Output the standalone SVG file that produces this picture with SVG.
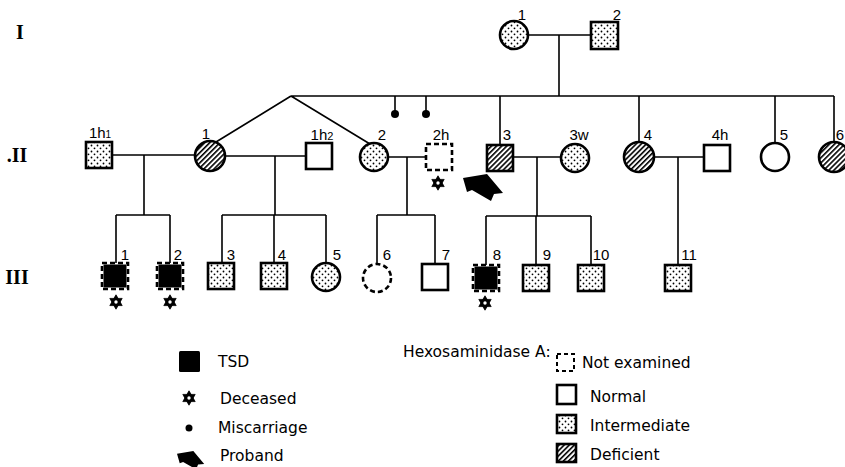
<svg xmlns="http://www.w3.org/2000/svg" width="845" height="467" viewBox="0 0 845 467">
<defs>
<pattern id="stip" width="6" height="6" patternUnits="userSpaceOnUse">
<rect width="6" height="6" fill="#fff"/>
<circle cx="1.5" cy="1.5" r="0.9" fill="#000"/>
<circle cx="4.5" cy="4.3" r="0.9" fill="#000"/>
</pattern>
<pattern id="hatch" width="3.6" height="3.6" patternUnits="userSpaceOnUse" patternTransform="rotate(45)">
<rect width="3.6" height="3.6" fill="#fff"/>
<line x1="0.8" y1="0" x2="0.8" y2="3.6" stroke="#000" stroke-width="1.6"/>
</pattern>
<g id="star">
<polygon points="0,-7.2 6.2,3.6 -6.2,3.6" fill="#000" stroke="#000" stroke-width="0.8" stroke-linejoin="round"/>
<polygon points="0,7.2 6.2,-3.6 -6.2,-3.6" fill="#000" stroke="#000" stroke-width="0.8" stroke-linejoin="round"/>
<circle r="1.7" fill="#fff"/>
</g>
<polygon id="arrow" points="0,4 24,0 40,19 31,20 28,27 9,16 4,18" fill="#000"/>
</defs>
<style>
.n{stroke:#000;stroke-width:2.6;fill:#fff}
.nf{stroke:#000;stroke-width:2.6;fill:none}
.st{fill:url(#stip)}
.ha{fill:url(#hatch)}
.bk{fill:#000}
.da{stroke-dasharray:5 3}
.c{stroke:#000;stroke-width:1.6;fill:none}
.lb{font-family:"Liberation Sans",Arial,sans-serif;font-size:15px;fill:#000;text-anchor:middle}
.rn{font-family:"Liberation Serif","Times New Roman",serif;font-size:20px;font-weight:bold;fill:#000;text-anchor:middle}
.lg{font-family:"DejaVu Sans",sans-serif;font-size:15.5px;fill:#000}
</style>
<rect width="845" height="467" fill="#fff"/>

<g id="generations">
<text class="rn" x="20" y="39">I</text>
<text class="rn" x="17" y="162">.II</text>
<text class="rn" x="17" y="284">III</text>
</g>

<g id="connectors">
<path class="c" d="M528,35 H591 M559,35 V96"/>
<path class="c" d="M291,96 H834 M291,96 L216,142 M291,96 L370,144"/>
<path class="c" d="M395,96 V113 M426,96 V113"/>
<path class="c" d="M500,96 V145 M639,96 V142 M775,96 V143 M834,96 V142"/>
<path class="c" d="M112,155 H195 M144,155 V215 M116,215 H170 M116,215 V263 M170,215 V263"/>
<path class="c" d="M225,156 H306 M275,156 V215 M222,215 H326 M222,215 V263 M274,215 V263 M326,215 V263"/>
<path class="c" d="M388,157 H426 M407,157 V215 M377,215 H435 M377,215 V264 M435,215 V264"/>
<path class="c" d="M513,157 H561 M537,157 V216 M486,216 H591 M486,216 V265 M536,216 V265 M591,216 V265"/>
<path class="c" d="M654,157 H704 M678,157 V265"/>
</g>

<g id="I-1"><circle class="n st" cx="514" cy="35" r="14"/><text class="lb" x="522" y="20">1</text></g>
<g id="I-2"><rect class="n st" x="591" y="22" width="27" height="27"/><text class="lb" x="617" y="20">2</text></g>

<g id="miscarriage-1"><circle cx="395" cy="114" r="4" fill="#000"/></g>
<g id="miscarriage-2"><circle cx="426" cy="114" r="4" fill="#000"/></g>

<g id="II-1h1"><rect class="n st" x="86" y="142" width="26" height="26"/><text class="lb" x="100" y="138">1h<tspan font-size="10">1</tspan></text></g>
<g id="II-1"><circle class="n ha" cx="210" cy="156" r="15"/><text class="lb" x="206" y="139">1</text></g>
<g id="II-1h2"><rect class="n" x="306" y="143" width="26" height="26"/><text class="lb" x="322" y="140">1h<tspan font-size="11">2</tspan></text></g>
<g id="II-2"><circle class="n st" cx="374" cy="157" r="14"/><text class="lb" x="382" y="140">2</text></g>
<g id="II-2h"><rect class="n da" x="426" y="144" width="26" height="26"/><text class="lb" x="441" y="140">2h</text><use href="#star" transform="translate(438,183)"/></g>
<g id="II-3"><rect class="n ha" x="487" y="145" width="26" height="26"/><text class="lb" x="507" y="140">3</text></g>
<g id="proband"><use href="#arrow" transform="translate(463,174)"/></g>
<g id="II-3w"><circle class="n st" cx="575" cy="158" r="14"/><text class="lb" x="579" y="140">3w</text></g>
<g id="II-4"><circle class="n ha" cx="639" cy="157" r="15"/><text class="lb" x="648" y="140">4</text></g>
<g id="II-4h"><rect class="n" x="704" y="145" width="26" height="26"/><text class="lb" x="720" y="140">4h</text></g>
<g id="II-5"><circle class="n" cx="775" cy="157" r="14"/><text class="lb" x="784" y="140">5</text></g>
<g id="II-6"><circle class="n ha" cx="834" cy="157" r="15"/><text class="lb" x="840" y="140">6</text></g>

<g id="III-1"><rect class="bk" x="103.5" y="264.5" width="23" height="23"/><rect class="nf da" x="102" y="263" width="26" height="26"/><text class="lb" x="125" y="260">1</text><use href="#star" transform="translate(116,302)"/></g>
<g id="III-2"><rect class="bk" x="158.5" y="264.5" width="23" height="23"/><rect class="nf da" x="157" y="263" width="26" height="26"/><text class="lb" x="178" y="260">2</text><use href="#star" transform="translate(170,302)"/></g>
<g id="III-3"><rect class="n st" x="208" y="263" width="26" height="26"/><text class="lb" x="231" y="260">3</text></g>
<g id="III-4"><rect class="n st" x="261" y="263" width="26" height="26"/><text class="lb" x="282" y="260">4</text></g>
<g id="III-5"><circle class="n st" cx="326" cy="277" r="14"/><text class="lb" x="337" y="260">5</text></g>
<g id="III-6"><circle class="n da" cx="377" cy="278" r="14"/><text class="lb" x="387" y="260">6</text></g>
<g id="III-7"><rect class="n" x="422" y="264" width="26" height="26"/><text class="lb" x="446" y="260">7</text></g>
<g id="III-8"><rect class="bk" x="474.5" y="266.5" width="23" height="23"/><rect class="nf da" x="473" y="265" width="26" height="26"/><text class="lb" x="497" y="260">8</text><use href="#star" transform="translate(485,303)"/></g>
<g id="III-9"><rect class="n st" x="523" y="265" width="26" height="26"/><text class="lb" x="547" y="260">9</text></g>
<g id="III-10"><rect class="n st" x="578" y="265" width="26" height="26"/><text class="lb" x="601" y="260">10</text></g>
<g id="III-11"><rect class="n st" x="665" y="265" width="26" height="26"/><text class="lb" x="689" y="260">11</text></g>

<g id="legend">
<rect x="179" y="351" width="21" height="21" rx="1.5" fill="#000"/>
<text class="lg" x="218" y="367">TSD</text>
<use href="#star" transform="translate(189,398)"/>
<text class="lg" x="220" y="404">Deceased</text>
<circle cx="189" cy="428" r="3.5" fill="#000"/>
<text class="lg" x="218" y="433">Miscarriage</text>
<use href="#arrow" transform="translate(177,451) scale(0.68)"/>
<text class="lg" x="220" y="461">Proband</text>
<text class="lg" x="403" y="357">Hexosaminidase A:</text>
<rect x="557" y="354" width="17" height="17" fill="none" stroke="#000" stroke-width="2" stroke-dasharray="4 3"/>
<text class="lg" x="582" y="368">Not examined</text>
<rect class="n" x="557" y="385" width="19" height="19" stroke-width="2.2"/>
<text class="lg" x="590" y="402">Normal</text>
<rect class="n st" x="557" y="415" width="19" height="18" stroke-width="2.2"/>
<text class="lg" x="590" y="431">Intermediate</text>
<rect class="n ha" x="557" y="444" width="19" height="18" stroke-width="2.2"/>
<text class="lg" x="590" y="460">Deficient</text>
</g>
</svg>
